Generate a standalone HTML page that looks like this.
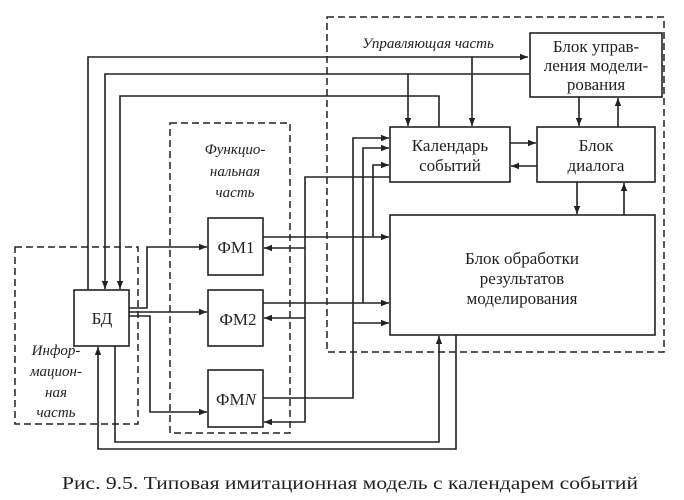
<!DOCTYPE html>
<html><head><meta charset="utf-8"><style>
html,body{margin:0;padding:0;background:#fff;}
svg{display:block;}
text{font-family:"Liberation Serif",serif;fill:#222;}
</style></head><body>
<svg width="684" height="500" viewBox="0 0 684 500" xmlns="http://www.w3.org/2000/svg">
<defs>
<marker id="a" viewBox="0 0 10 10" refX="10" refY="5" markerWidth="10" markerHeight="8" markerUnits="userSpaceOnUse" orient="auto">
<path d="M0,1 L10,5 L0,9 z" fill="#222"/></marker>
</defs>
<g fill="none" stroke="#222" stroke-width="1.6">
<g stroke-dasharray="7,4" stroke-width="1.5">
<rect x="327" y="17" width="337" height="335"/>
<rect x="170" y="123" width="120" height="310"/>
<rect x="15" y="247" width="123" height="177"/>
</g>
<rect x="530" y="33" width="132" height="64"/>
<rect x="390" y="127" width="120" height="55"/>
<rect x="537" y="127" width="118" height="55"/>
<rect x="390" y="215" width="265" height="120"/>
<rect x="208" y="218" width="55" height="57"/>
<rect x="208" y="290" width="55" height="56"/>
<rect x="208" y="370" width="55" height="57"/>
<rect x="74" y="290" width="55" height="56"/>
<polyline points="88,290 88,57 528,57" marker-end="url(#a)"/>
<line x1="472" y1="57" x2="472" y2="126" marker-end="url(#a)"/>
<polyline points="530,74 105,74 105,289" marker-end="url(#a)"/>
<line x1="408" y1="74" x2="408" y2="126" marker-end="url(#a)"/>
<polyline points="439,127 439,96 120,96 120,289" marker-end="url(#a)"/>
<line x1="579" y1="97" x2="579" y2="126" marker-end="url(#a)"/>
<line x1="618" y1="127" x2="618" y2="98" marker-end="url(#a)"/>
<line x1="510" y1="143" x2="536" y2="143" marker-end="url(#a)"/>
<line x1="537" y1="166" x2="511" y2="166" marker-end="url(#a)"/>
<line x1="577" y1="182" x2="577" y2="214" marker-end="url(#a)"/>
<line x1="624" y1="215" x2="624" y2="183" marker-end="url(#a)"/>
<polyline points="263,398 353,398 353,138 389,138" marker-end="url(#a)"/>
<line x1="353" y1="323" x2="389" y2="323" marker-end="url(#a)"/>
<polyline points="263,303 389,303" marker-end="url(#a)"/>
<polyline points="363,303 363,148 389,148" marker-end="url(#a)"/>
<polyline points="263,237 389,237" marker-end="url(#a)"/>
<polyline points="373,237 373,165 389,165" marker-end="url(#a)"/>
<polyline points="390,177 305,177 305,422 264,422" marker-end="url(#a)"/>
<line x1="305" y1="248" x2="264" y2="248" marker-end="url(#a)"/>
<line x1="305" y1="318" x2="264" y2="318" marker-end="url(#a)"/>
<polyline points="129,308 147,308 147,247 207,247" marker-end="url(#a)"/>
<line x1="129" y1="312" x2="207" y2="312" marker-end="url(#a)"/>
<polyline points="129,316 150,316 150,412 207,412" marker-end="url(#a)"/>
<polyline points="115,346 115,442 439,442 439,336" marker-end="url(#a)"/>
<polyline points="456,335 456,449 98,449 98,347" marker-end="url(#a)"/>
</g>
<g font-size="17" text-anchor="middle">
<text x="596" y="52">Блок управ-</text>
<text x="596" y="71">ления модели-</text>
<text x="596" y="90">рования</text>
<text x="450" y="151">Календарь</text>
<text x="450" y="171">событий</text>
<text x="596" y="151">Блок</text>
<text x="596" y="171">диалога</text>
<text x="522" y="264">Блок обработки</text>
<text x="522" y="284">результатов</text>
<text x="522" y="304">моделирования</text>
<text x="236" y="253">ФМ1</text>
<text x="238" y="325">ФМ2</text>
<text x="236" y="405">ФМ<tspan font-style="italic">N</tspan></text>
<text x="102" y="324">БД</text>
</g>
<g font-size="15" font-style="italic" text-anchor="middle">
<text x="428" y="48">Управляющая часть</text>
<text x="235" y="154">Функцио-</text>
<text x="235" y="176">нальная</text>
<text x="235" y="197">часть</text>
<text x="56" y="355">Инфор-</text>
<text x="56" y="376">мацион-</text>
<text x="56" y="397">ная</text>
<text x="56" y="417">часть</text>
</g>
<text x="62" y="489" font-size="18" font-stretch="condensed" textLength="576" lengthAdjust="spacingAndGlyphs">Рис. 9.5. Типовая имитационная модель с календарем событий</text>
</svg>
</body></html>
